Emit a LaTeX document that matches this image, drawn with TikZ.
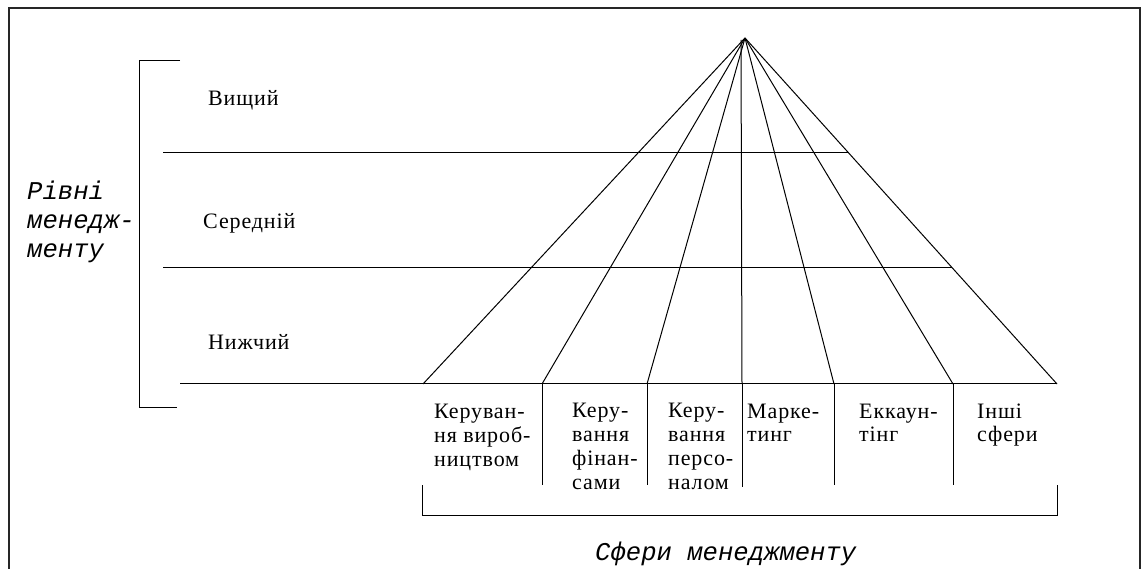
\documentclass[tikz,border=0pt]{standalone}
\usepackage{fontspec}
\setmainfont{Liberation Serif}[LetterSpace=4]
\setmonofont{Liberation Mono}
\begin{document}
\begin{tikzpicture}[x=1pt,y=-1pt,
  ln/.style={line width=1pt,black},
  frameln/.style={line width=1.4pt,black!85},
  lvl/.style={anchor=base west,inner sep=0pt,font=\fontsize{22}{23.5}\selectfont},
  col/.style={anchor=base west,inner sep=0pt,align=left,font=\fontsize{22}{23.8}\selectfont},
  captext/.style={anchor=base west,inner sep=0pt,align=left,font=\fontsize{25.6}{29}\selectfont\ttfamily\itshape}]
\useasboundingbox (0,0) rectangle (1144,569);
% outer frame
\draw[frameln] (9,569) -- (9,8) -- (1140,8) -- (1140,569);

% apex and base points of the fan
\coordinate (apex) at (745,38);
\coordinate (vtop) at (741,40);
\coordinate (b0) at (423,384);
\coordinate (b1) at (542,384);
\coordinate (b2) at (647,384);
\coordinate (b3) at (742,384);
\coordinate (b4) at (834,384);
\coordinate (b5) at (953,384);
\coordinate (b6) at (1057,384);

% level lines
\coordinate (h1l) at (163,153); \coordinate (h1r) at (849,153);
\coordinate (h2l) at (163,268); \coordinate (h2r) at (952,268);
\coordinate (h3l) at (180,384);
\draw[ln] (h1l) -- (h1r);
\draw[ln] (h2l) -- (h2r);
\draw[ln] (h3l) -- (b6);

% fan
\foreach \p in {b0,b1,b2,b4,b5,b6} \draw[ln] (apex) -- (\p);
\draw[ln] (vtop) -- (b3);

% column dividers
\coordinate (d1) at (542,485);
\coordinate (d2) at (647,485);
\coordinate (d3) at (742,487);
\coordinate (d4) at (834,485);
\coordinate (d5) at (953,485);
\draw[ln] (b1) -- (d1);
\draw[ln] (b2) -- (d2);
\draw[ln] (b3) -- (d3);
\draw[ln] (b4) -- (d4);
\draw[ln] (b5) -- (d5);

% left bracket
\coordinate (lb1) at (180,61); \coordinate (lb2) at (139,61);
\coordinate (lb3) at (139,408); \coordinate (lb4) at (177,408);
\draw[ln] (lb1) -- (lb2) -- (lb3) -- (lb4);

% bottom bracket
\coordinate (bb1) at (422,485); \coordinate (bb2) at (422,515);
\coordinate (bb3) at (1057,515); \coordinate (bb4) at (1057,485);
\draw[ln] (bb1) -- (bb2) -- (bb3) -- (bb4);

% level names
\node[lvl] (top) at (208,106) {Вищий};
\node[lvl] (mid) at (203,229) {Середній};
\node[lvl] (low) at (208,350) {Нижчий};

% areas (anchored at the baseline of the last line)
\node[col] (c1) at (434,466) {Керуван-\\ня вироб-\\ництвом};
\node[col] (c2) at (572,489) {Керу-\\вання\\ фінан-\\сами};
\node[col] (c3) at (668,489) {Керу-\\вання\\ персо-\\налом};
\node[col] (c4) at (747,442) {Марке-\\ тинг};
\node[col] (c5) at (859,442) {Еккаун-\\тінг};
\node[col] (c6) at (977,442) {Інші\\ сфери};

% captions
\node[captext] (levels) at (27,258) {Рівні\\менедж-\\менту};
\node[captext] (areas) at (595,560) {Сфери менеджменту};
\end{tikzpicture}
\end{document}
